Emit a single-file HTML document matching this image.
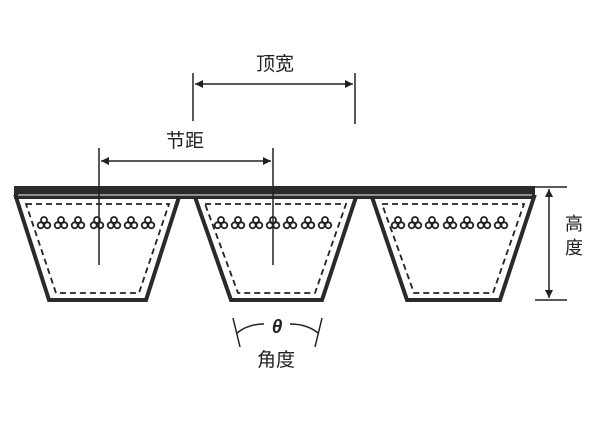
<!DOCTYPE html><html><head><meta charset="utf-8"><style>body{margin:0;background:#fff}svg{display:block}text{font-family:"Liberation Sans","Noto Sans CJK SC",sans-serif;fill:#222}</style></head><body>
<svg width="600" height="446" viewBox="0 0 600 446">
<defs>
<g id="tf" fill="none" stroke="#222" stroke-width="1.8"><circle cx="0" cy="-3" r="3"/><circle cx="-3.3" cy="2.3" r="3"/><circle cx="3.3" cy="2.3" r="3"/></g>
<marker id="a" viewBox="0 0 10 10" refX="10" refY="5" markerWidth="12" markerHeight="8" markerUnits="userSpaceOnUse" orient="auto-start-reverse"><path d="M0,0L10,5L0,10z" fill="#222"/></marker>
</defs>
<g stroke="#2a2a2a" stroke-width="4" fill="#fff" stroke-linejoin="miter">
<polygon points="16,197 179,197 146,300 49,300"/>
<polygon points="195,197 356,197 322,300 231,300"/>
<polygon points="372,197 534,197 500,300 407,300"/>
</g>
<rect x="14" y="186" width="521" height="13" fill="#2a2a2a"/>
<line x1="18" y1="195" x2="532" y2="195" stroke="#ccc" stroke-width="1.2"/>
<g stroke="#222" stroke-width="1.8" fill="none" stroke-dasharray="6,4">
<polygon points="26,204 169,204 139,293 56,293"/>
<polygon points="205,204 346,204 315,293 238,293"/>
<polygon points="382,204 524,204 493,293 414,293"/>
</g>
<g>
<use href="#tf" x="44" y="223"/><use href="#tf" x="61" y="223"/><use href="#tf" x="78" y="223"/><use href="#tf" x="97" y="223"/><use href="#tf" x="114" y="223"/><use href="#tf" x="131" y="223"/><use href="#tf" x="148" y="223"/>
<use href="#tf" x="221" y="223"/><use href="#tf" x="238" y="223"/><use href="#tf" x="256" y="223"/><use href="#tf" x="273" y="223"/><use href="#tf" x="290" y="223"/><use href="#tf" x="308" y="223"/><use href="#tf" x="325" y="223"/>
<use href="#tf" x="398" y="223"/><use href="#tf" x="415" y="223"/><use href="#tf" x="432" y="223"/><use href="#tf" x="450" y="223"/><use href="#tf" x="467" y="223"/><use href="#tf" x="484" y="223"/><use href="#tf" x="501" y="223"/>
</g>
<g stroke="#222" stroke-width="1.5" fill="none">
<line x1="99" y1="148" x2="99" y2="265"/>
<line x1="273" y1="148" x2="273" y2="265"/>
<line x1="193" y1="73" x2="193" y2="121"/>
<line x1="355" y1="73" x2="355" y2="124"/>
<line x1="101" y1="161" x2="271" y2="161" marker-start="url(#a)" marker-end="url(#a)"/>
<line x1="195" y1="84" x2="353" y2="84" marker-start="url(#a)" marker-end="url(#a)"/>
<line x1="535" y1="187" x2="567" y2="187"/>
<line x1="535" y1="300" x2="567" y2="300"/>
<line x1="549" y1="189" x2="549" y2="298" marker-start="url(#a)" marker-end="url(#a)"/>
<line x1="233" y1="318" x2="240" y2="347"/>
<line x1="322" y1="318" x2="315" y2="347"/>
<path d="M237,333 Q248,324 264,324"/>
<path d="M318,333 Q307,324 290,324"/>
</g>
<text x="275" y="70" font-size="19" text-anchor="middle">顶宽</text>
<text x="185" y="147" font-size="19" text-anchor="middle">节距</text>
<text x="277" y="333" font-size="19" font-weight="bold" font-style="italic" text-anchor="middle" font-family="Liberation Serif,serif">θ</text>
<text x="276" y="366" font-size="19" text-anchor="middle">角度</text>
<text x="574" y="230" font-size="18" text-anchor="middle">高</text>
<text x="574" y="254" font-size="18" text-anchor="middle">度</text>
</svg></body></html>
